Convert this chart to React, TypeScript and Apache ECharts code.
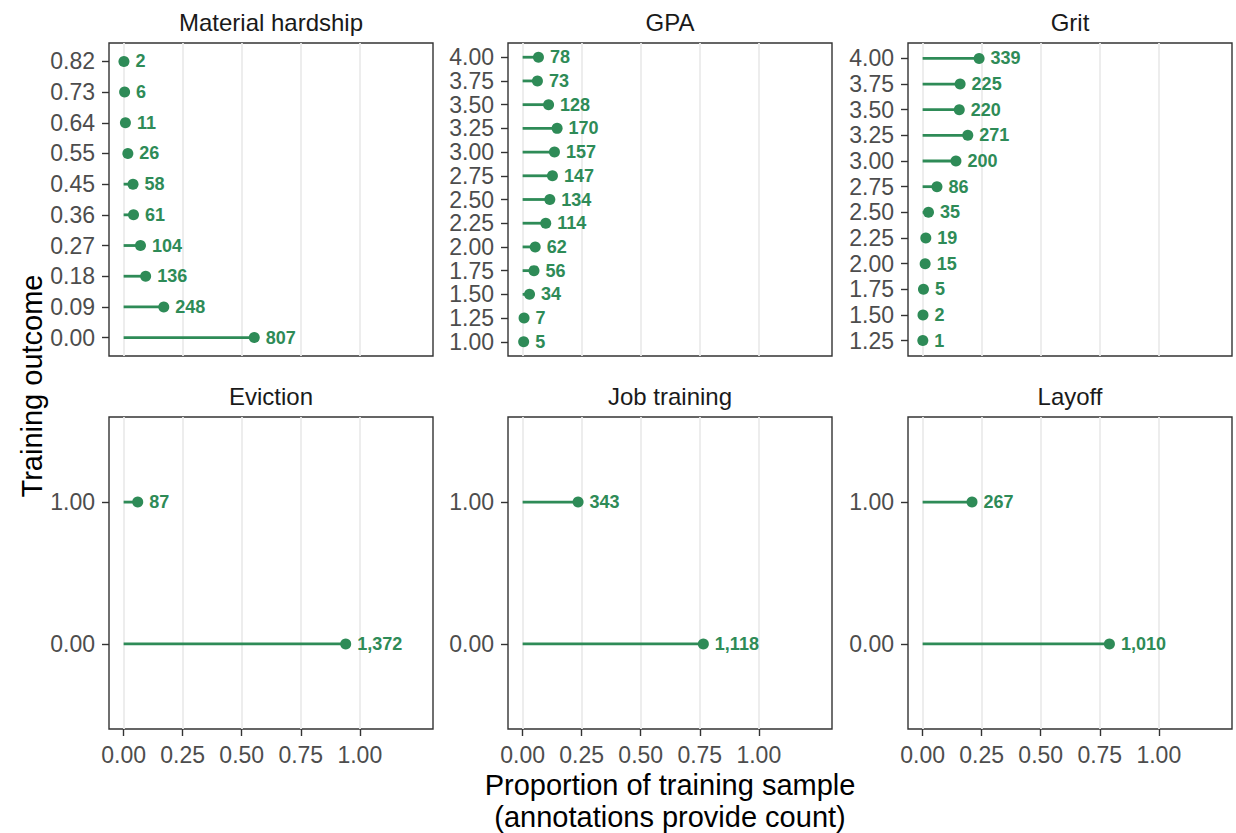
import React, { useEffect, useRef } from "react";
import * as echarts from "echarts";

const FONT = "'Liberation Sans', Arial, Helvetica, sans-serif";
const GREEN = "#2E8B57";

const hardshipLevels = ["0.00", "0.09", "0.18", "0.27", "0.36", "0.45", "0.55", "0.64", "0.73", "0.82"];
const hardshipCounts = [807, 248, 136, 104, 61, 58, 26, 11, 6, 2];

const gpaLevels = ["1.00", "1.25", "1.50", "1.75", "2.00", "2.25", "2.50", "2.75", "3.00", "3.25", "3.50", "3.75", "4.00"];
const gpaCounts = [5, 7, 34, 56, 62, 114, 134, 147, 157, 170, 128, 73, 78];

const gritLevels = ["1.25", "1.50", "1.75", "2.00", "2.25", "2.50", "2.75", "3.00", "3.25", "3.50", "3.75", "4.00"];
const gritCounts = [1, 2, 5, 15, 19, 35, 86, 200, 271, 220, 225, 339];

const binaryLevels = ["0.00", "1.00"];
const evictionCounts = [1372, 87];
const jobTrainingCounts = [1118, 343];
const layoffCounts = [1010, 267];

const xTicks = [0, 0.25, 0.5, 0.75, 1];

const panels = [
  { title: "Material hardship", levels: hardshipLevels, counts: hardshipCounts, col: 0, row: 0 },
  { title: "GPA", levels: gpaLevels, counts: gpaCounts, col: 1, row: 0 },
  { title: "Grit", levels: gritLevels, counts: gritCounts, col: 2, row: 0 },
  { title: "Eviction", levels: binaryLevels, counts: evictionCounts, col: 0, row: 1 },
  { title: "Job training", levels: binaryLevels, counts: jobTrainingCounts, col: 1, row: 1 },
  { title: "Layoff", levels: binaryLevels, counts: layoffCounts, col: 2, row: 1 },
];

const COL_LEFT = [109, 508, 908];
const PANEL_W = 324;
const ROW_TOP = [43, 417];
const PANEL_H = [313, 312];

export default function App() {
  const ref = useRef<HTMLDivElement>(null);
  useEffect(() => {
    if (!ref.current) return;
    const chart = echarts.init(ref.current, null, { renderer: "svg" });
    const grids: any[] = [];
    const xAxes: any[] = [];
    const yAxes: any[] = [];
    const series: any[] = [];
    const graphics: any[] = [];

    panels.forEach((p, k) => {
      const left = COL_LEFT[p.col];
      const top = ROW_TOP[p.row];
      const h = PANEL_H[p.row];
      const showX = p.row === 1;
      const n = p.levels.length;
      const total = p.counts.reduce((a, b) => a + b, 0);
      const idx = p.levels.map((_, i) => i);
      grids.push({
        left, top, width: PANEL_W, height: h,
        show: true, borderColor: "#333333", borderWidth: 1.4, backgroundColor: "transparent",
        containLabel: false,
      });
      xAxes.push({
        type: "value", gridIndex: k, min: -0.062, max: 1.31, position: "bottom",
        axisLine: { show: false, onZero: false },
        axisTick: { show: showX, customValues: xTicks, length: 7, lineStyle: { color: "#333333", width: 1.4 } },
        axisLabel: {
          show: showX, customValues: xTicks, margin: 14,
          formatter: (v: number) => v.toFixed(2),
          fontFamily: FONT, fontSize: 23, color: "#4D4D4D",
        },
        splitLine: { show: true, lineStyle: { color: "#EBEBEB", width: 1.8 } },
      });
      yAxes.push({
        type: "value", gridIndex: k, min: -0.6, max: n - 1 + 0.6, position: "left",
        axisLine: { show: false, onZero: false },
        axisTick: { show: true, customValues: idx, length: 7, lineStyle: { color: "#333333", width: 1.4 } },
        axisLabel: {
          customValues: idx, margin: 14,
          formatter: (v: number) => p.levels[Math.round(v)] ?? "",
          fontFamily: FONT, fontSize: 23, color: "#4D4D4D",
        },
        splitLine: { show: false },
      });
      const data = p.counts.map((c, i) => [c / total, i, c]);
      series.push({
        type: "custom", xAxisIndex: k, yAxisIndex: k, data,
        encode: { x: 0, y: 1 },
        renderItem: (params: any, api: any) => {
          const v = api.value(0);
          const y = api.value(1);
          const p0 = api.coord([0, y]);
          const p1 = api.coord([v, y]);
          return {
            type: "line",
            shape: { x1: p0[0], y1: p0[1], x2: p1[0], y2: p1[1] },
            style: { stroke: GREEN, lineWidth: 2.8 },
          };
        },
        silent: true,
      });
      series.push({
        type: "scatter", xAxisIndex: k, yAxisIndex: k, data,
        symbol: "circle", symbolSize: 11,
        itemStyle: { color: GREEN, opacity: 1 },
        label: {
          show: true, position: "right", distance: 6,
          formatter: (q: any) => Number(q.value[2]).toLocaleString("en-US"),
          fontFamily: FONT, fontSize: 18, fontWeight: "bold", color: GREEN,
        },
        silent: true,
      });
      graphics.push({
        type: "text", x: left + PANEL_W / 2, y: top - 21,
        style: { text: p.title, fontFamily: FONT, fontSize: 24, fill: "#1A1A1A", textAlign: "center", textVerticalAlign: "middle" },
      });
    });

    graphics.push({
      type: "text", x: 32, y: 386, rotation: Math.PI / 2,
      style: { text: "Training outcome", fontFamily: FONT, fontSize: 29, fill: "#000000", textAlign: "center", textVerticalAlign: "middle" },
    });
    graphics.push({
      type: "text", x: 670, y: 785,
      style: { text: "Proportion of training sample", fontFamily: FONT, fontSize: 29, fill: "#000000", textAlign: "center", textVerticalAlign: "middle" },
    });
    graphics.push({
      type: "text", x: 670, y: 817,
      style: { text: "(annotations provide count)", fontFamily: FONT, fontSize: 29, fill: "#000000", textAlign: "center", textVerticalAlign: "middle" },
    });

    chart.setOption({
      animation: false,
      backgroundColor: "#FFFFFF",
      grid: grids,
      xAxis: xAxes,
      yAxis: yAxes,
      series,
      graphic: graphics,
    });
    return () => chart.dispose();
  }, []);
  return <div ref={ref} style={{ position: "fixed", left: 0, top: 0, width: 1236, height: 833 }} />;
}
